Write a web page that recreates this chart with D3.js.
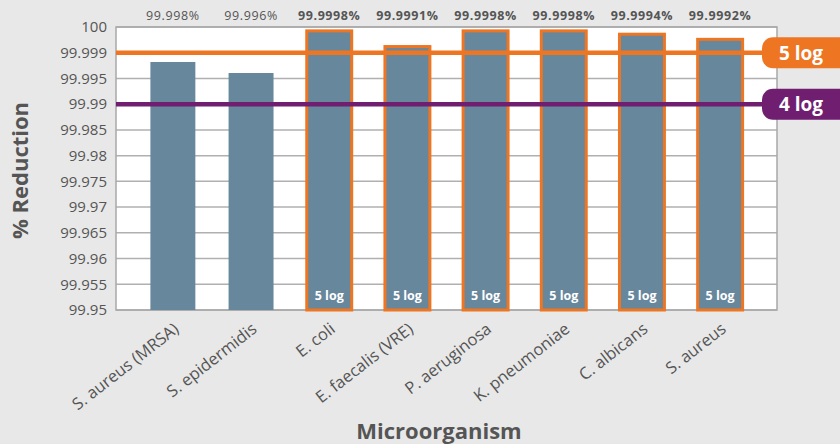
<!DOCTYPE html>
<html>
<head>
<meta charset="utf-8">
<script src="https://cdn.jsdelivr.net/npm/d3@7"></script>
<style>
  html, body { margin: 0; padding: 0; background: #e8e8e8; }
  svg { display: block; font-family: "Open Sans", "Noto Sans", sans-serif; }
</style>
</head>
<body>
<svg id="chart" width="840" height="444"></svg>
<script>
// ---- data ----
const categories = ["S. aureus (MRSA)", "S. epidermidis", "E. coli", "E. faecalis (VRE)",
  "P. aeruginosa", "K. pneumoniae", "C. albicans", "S. aureus"];
// bar heights as read against the axis
const reduction = [99.99756, 99.99585, 99.99985, 99.99924, 99.99985, 99.99985, 99.99972, 99.99952];
const valueLabels = ["99.998%", "99.996%", "99.9998%", "99.9991%", "99.9998%", "99.9998%", "99.9994%", "99.9992%"];
const fiveLog = [false, false, true, true, true, true, true, true];
const yTicks = [99.95, 99.955, 99.96, 99.965, 99.97, 99.975, 99.98, 99.985, 99.99, 99.995, 99.999, 100];
const yTickLabels = ["99.95", "99.955", "99.96", "99.965", "99.97", "99.975", "99.98", "99.985", "99.99", "99.995", "99.999", "100"];
const thresholds = [{ label: "5 log", value: 99.999 }, { label: "4 log", value: 99.99 }];

// ---- layout ----
const svg = d3.select("#chart");
const pLeft = 116, pRight = 777, pTop = 27, pBottom = 310;
const colors = { bar: "#67879c", orange: "#ee7623", purple: "#6f1e70", text: "#555555", grid: "#b0b0b0" };

const x = d3.scaleBand().domain(categories).range([pLeft, pRight]).paddingInner(0.425).paddingOuter(0.44);
const y = d3.scaleLinear()
  .domain(yTicks)
  .range(yTicks.map((d, i) => pBottom - i * (pBottom - pTop) / (yTicks.length - 1)));

// plot background
svg.append("rect").attr("x", pLeft).attr("y", pTop).attr("width", pRight - pLeft).attr("height", pBottom - pTop)
  .attr("fill", "#ffffff");

// gridlines
svg.append("g").selectAll("line").data(yTicks).join("line")
  .attr("x1", pLeft).attr("x2", pRight)
  .attr("y1", d => y(d)).attr("y2", d => y(d))
  .attr("stroke", colors.grid).attr("stroke-width", 1.5);

// border
svg.append("rect").attr("x", pLeft).attr("y", pTop).attr("width", pRight - pLeft).attr("height", pBottom - pTop)
  .attr("fill", "none").attr("stroke", "#a8a8a8").attr("stroke-width", 1.5);

// y axis labels
const yAxis = d3.axisLeft(y).tickValues(yTicks).tickFormat((d, i) => yTickLabels[i]).tickSize(0).tickPadding(9);
const yg = svg.append("g").attr("transform", `translate(${pLeft},0)`).call(yAxis);
yg.select(".domain").remove();
yg.selectAll("text").attr("font-size", 15).attr("fill", colors.text)
  .attr("font-family", "'Open Sans', sans-serif");

// bars
svg.append("g").selectAll("rect").data(categories).join("rect")
  .attr("x", d => x(d))
  .attr("width", x.bandwidth())
  .attr("y", (d, i) => y(reduction[i]))
  .attr("height", (d, i) => y(yTicks[0]) - y(reduction[i]))
  .attr("fill", colors.bar)
  .attr("stroke", (d, i) => fiveLog[i] ? colors.orange : "none")
  .attr("stroke-width", 3);

// in-bar labels
svg.append("g").selectAll("text").data(categories.filter((d, i) => fiveLog[i])).join("text")
  .attr("x", d => x(d) + x.bandwidth() / 2)
  .attr("y", y(yTicks[0]) - 10)
  .attr("text-anchor", "middle")
  .attr("font-size", 12.5).attr("font-weight", 700).attr("fill", "#ffffff")
  .text("5 log");

// value labels at top
svg.append("g").selectAll("text").data(categories).join("text")
  .attr("x", d => x(d) + x.bandwidth() / 2)
  .attr("y", 20)
  .attr("text-anchor", "middle")
  .attr("font-size", 12.5).attr("letter-spacing", 0.6)
  .attr("font-weight", (d, i) => fiveLog[i] ? 700 : 400)
  .attr("fill", colors.text)
  .text((d, i) => valueLabels[i]);

// threshold lines + badges
const thrColor = [colors.orange, colors.purple];
thresholds.forEach((t, i) => {
  const yy = y(t.value);
  svg.append("line").attr("x1", pLeft).attr("x2", 770).attr("y1", yy).attr("y2", yy)
    .attr("stroke", thrColor[i]).attr("stroke-width", 4.5);
  svg.append("rect").attr("x", 762).attr("y", yy - 15.5).attr("width", 100).attr("height", 31)
    .attr("rx", 11).attr("fill", thrColor[i]);
  svg.append("text").attr("x", 801).attr("y", yy + 7).attr("text-anchor", "middle")
    .attr("font-size", 19).attr("font-weight", 700).attr("fill", "#ffffff").text(t.label);
});

// x labels
svg.append("g").selectAll("text").data(categories).join("text")
  .attr("transform", d => `translate(${x(d) + x.bandwidth() / 2 + 7},${pBottom + 21}) rotate(-38)`)
  .attr("text-anchor", "end")
  .attr("font-size", 16.5).attr("fill", colors.text)
  .text(d => d);

// axis titles
svg.append("text").attr("x", 439).attr("y", 439).attr("text-anchor", "middle")
  .attr("font-size", 22).attr("font-weight", 700).attr("fill", colors.text).text("Microorganism");
svg.append("text").attr("transform", `translate(28,${(105 + 236) / 2}) rotate(-90)`).attr("text-anchor", "middle")
  .attr("font-size", 22).attr("font-weight", 700).attr("fill", colors.text).text("% Reduction");
</script>
</body>
</html>
